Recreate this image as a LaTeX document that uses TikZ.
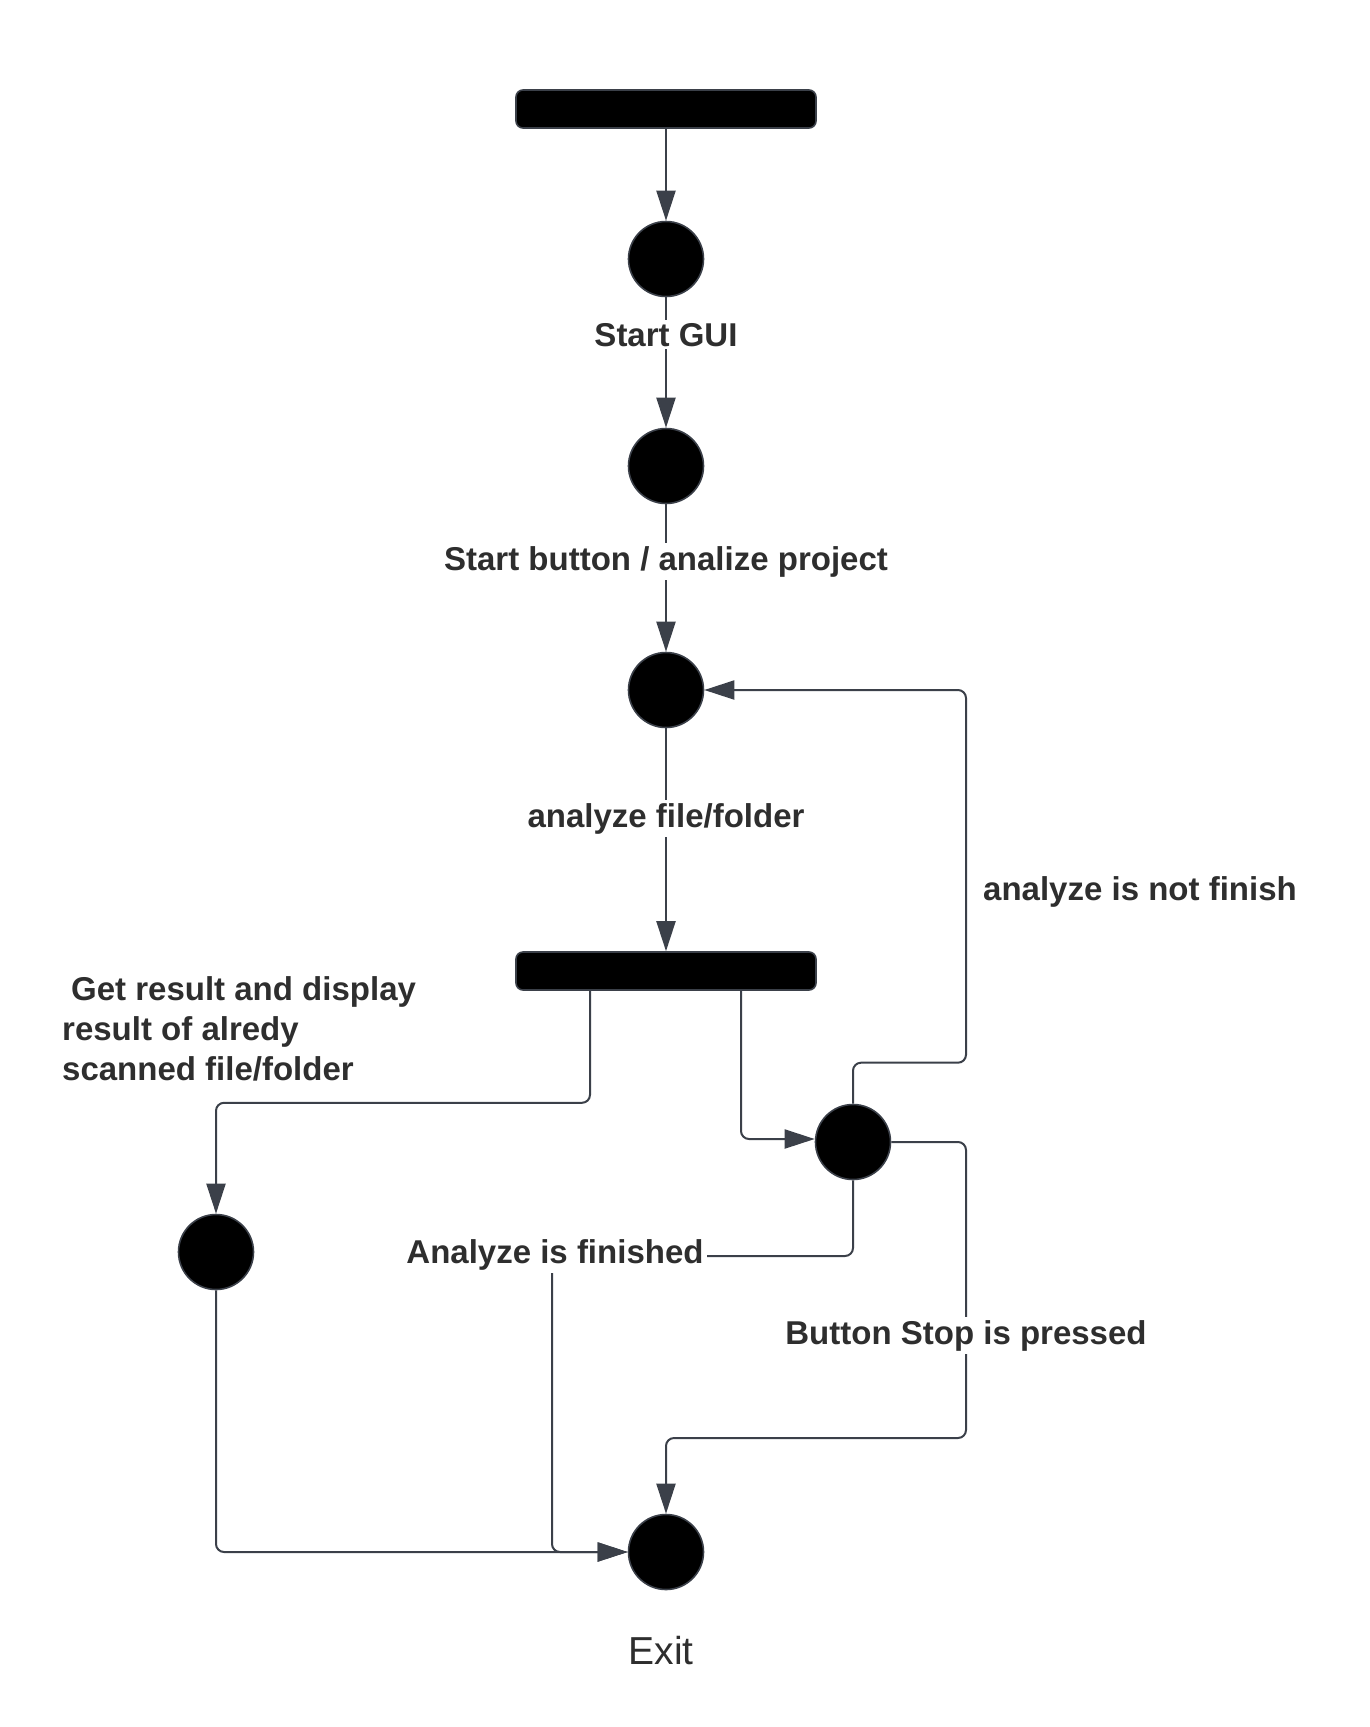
\documentclass[tikz,border=0pt]{standalone}
\usepackage{fontspec}
\setmainfont{Liberation Sans}
\usetikzlibrary{arrows.meta}
\definecolor{linec}{HTML}{3B4049}
\definecolor{textc}{HTML}{2E2E2E}
\tikzset{
  state/.style={circle, fill=black, draw=linec, line width=1.6pt, minimum size=75pt, inner sep=0pt},
  barnode/.style={rectangle, rounded corners=7pt, fill=black, draw=linec, line width=1.6pt, minimum width=300pt, minimum height=38pt, inner sep=0pt},
  conn/.style={draw=linec, line width=2pt, rounded corners=8pt, -{Triangle[length=30pt,width=19pt]}},
  lbl/.style={font=\fontsize{33}{40}\selectfont\bfseries, text=textc, fill=white, inner sep=3pt, anchor=base},
}
\begin{document}
\begin{tikzpicture}[x=1pt,y=-1pt]
\useasboundingbox (0,0) rectangle (1369,1727);
% nodes
\node[barnode] (bar1) at (666,109) {};
\node[state] (c1) at (666,259) {};
\node[state] (c2) at (666,466) {};
\node[state] (c3) at (666,690) {};
\node[barnode] (bar2) at (666,971) {};
\node[state] (c4) at (853,1142) {};
\node[state] (c5) at (216,1252) {};
\node[state] (ex) at (666,1552) {};
% connectors
\draw[conn] (bar1.south) -- (c1.north);
\draw[conn] (c1.south) -- (c2.north);
\draw[conn] (c2.south) -- (c3.north);
\draw[conn] (c3.south) -- (bar2.north);
\draw[conn] ([xshift=-76pt]bar2.south) -- ++(0,112) -| (c5.north);
\draw[conn] ([xshift=75pt]bar2.south) |- ([yshift=3pt]c4.west);
\draw[conn] (c4.north) -- ++(0,-41) -- ++(113,0) |- (c3.east);
\draw[conn] (c4.south) |- (552,1256) |- (ex.west);
\draw[conn] (c4.east) -| (966,1438) -| (ex.north);
\draw[conn] (c5.south) |- (ex.west);
% labels
\node[lbl] (l1) at (666,346) {Start GUI};
\node[lbl] (l2) at (666,570) {Start button / analize project};
\node[lbl] (l3) at (666,827) {analyze file/folder};
\node[lbl, anchor=base west] (l4) at (980,900) {analyze is not finish};
\node[lbl, anchor=base west, align=left, fill=none] (l5) at (59,1080) {\hspace*{9pt}Get result and display\\result of alredy\\scanned file/folder};
\node[lbl] (l6) at (555,1263) {Analyze is finished};
\node[lbl] (l7) at (966,1344) {Button Stop is pressed};
\node[font=\fontsize{39}{46}\selectfont, text=textc, anchor=base] (l8) at (661,1664) {Exit};
\end{tikzpicture}
\end{document}
